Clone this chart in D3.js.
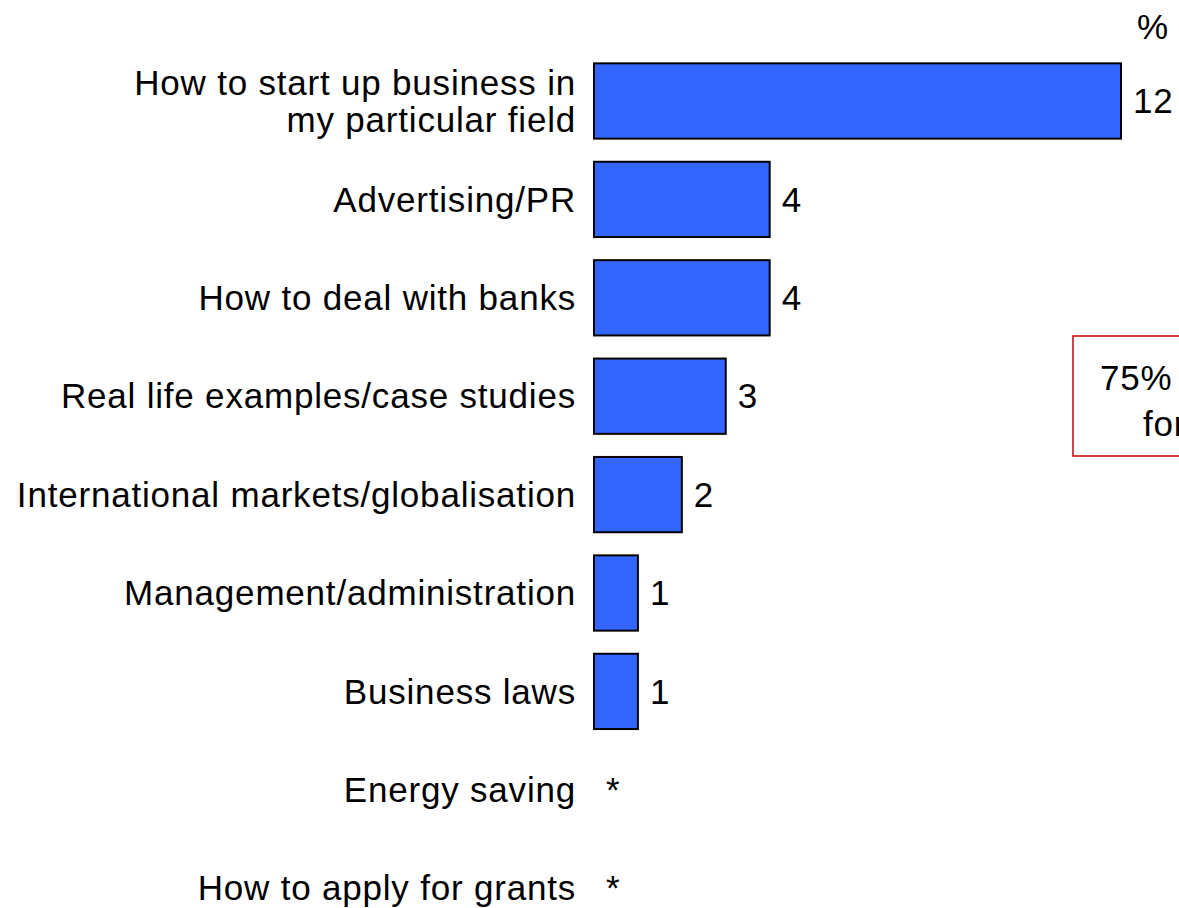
<!DOCTYPE html>
<html>
<head>
<meta charset="utf-8">
<script src="https://cdn.jsdelivr.net/npm/d3@7"></script>
<style>
  html, body { margin: 0; padding: 0; background: #fff; overflow: hidden; }
  svg { display: block; font-family: "Liberation Sans", Arial, sans-serif; }
</style>
</head>
<body>
<svg id="chart" width="1179" height="908"></svg>
<script>
// Topics people would like more information on (%)
const categories = [
  ["How to start up business in", "my particular field"],
  ["Advertising/PR"],
  ["How to deal with banks"],
  ["Real life examples/case studies"],
  ["International markets/globalisation"],
  ["Management/administration"],
  ["Business laws"],
  ["Energy saving"],
  ["How to apply for grants"]
];
// null = less than 0.5% (shown as *)
const values = [12, 4, 4, 3, 2, 1, 1, null, null];
const unitLabel = "%";
const noteLines = ["75% did not want", "for"];

const svg = d3.select("#chart");
const fontSize = 35;
const spacing = "0.8px";

const x = d3.scaleLinear().domain([0, 12]).range([594, 1121]);
const y = d3.scaleBand()
  .domain(d3.range(categories.length))
  .range([51.8, 937.4])
  .paddingInner(0.235)
  .paddingOuter(0.1175);

const rows = svg.append("g").selectAll("g")
  .data(categories.map((c, i) => ({ lines: c, value: values[i], i })))
  .join("g");

// category labels, right aligned against the bars
rows.append("text")
  .attr("x", 576)
  .attr("font-size", fontSize)
  .attr("letter-spacing", spacing)
  .attr("fill", "#000")
  .attr("text-anchor", "end")
  .each(function (d) {
    const cy = y(d.i) + y.bandwidth() / 2;
    const lh = 37;
    const t = d3.select(this);
    d.lines.forEach((ln, k) => {
      t.append("tspan")
        .attr("x", 576)
        .attr("y", cy + (k - (d.lines.length - 1) / 2) * lh)
        .attr("dy", "0.35em")
        .text(ln);
    });
  });

// bars
rows.filter(d => d.value != null).append("rect")
  .attr("x", x(0))
  .attr("y", d => y(d.i))
  .attr("width", d => x(d.value) - x(0))
  .attr("height", y.bandwidth())
  .attr("fill", "#3366ff")
  .attr("stroke", "#000")
  .attr("stroke-width", 2);

// value labels
rows.append("text")
  .attr("x", d => d.value != null ? x(d.value) + 12 : x(0) + 12)
  .attr("y", d => y(d.i) + y.bandwidth() / 2)
  .attr("dy", "0.35em")
  .attr("font-size", fontSize)
  .attr("letter-spacing", spacing)
  .attr("fill", "#000")
  .text(d => d.value != null ? d.value : "*");

// unit marker
svg.append("text")
  .attr("x", 1137)
  .attr("y", 27)
  .attr("dy", "0.35em")
  .attr("font-size", fontSize)
  .text(unitLabel);

// note box at the right edge
const note = svg.append("g");
note.append("rect")
  .attr("x", 1073).attr("y", 336)
  .attr("width", 300).attr("height", 120)
  .attr("fill", "#fff")
  .attr("stroke", "#cc0000")
  .attr("stroke-width", 1.5);
note.append("text")
  .attr("x", 1100).attr("y", 378)
  .attr("dy", "0.35em")
  .attr("font-size", fontSize)
  .attr("letter-spacing", spacing)
  .text(noteLines[0]);
note.append("text")
  .attr("x", 1143).attr("y", 424)
  .attr("dy", "0.35em")
  .attr("font-size", fontSize)
  .attr("letter-spacing", spacing)
  .text(noteLines[1]);
</script>
</body>
</html>
